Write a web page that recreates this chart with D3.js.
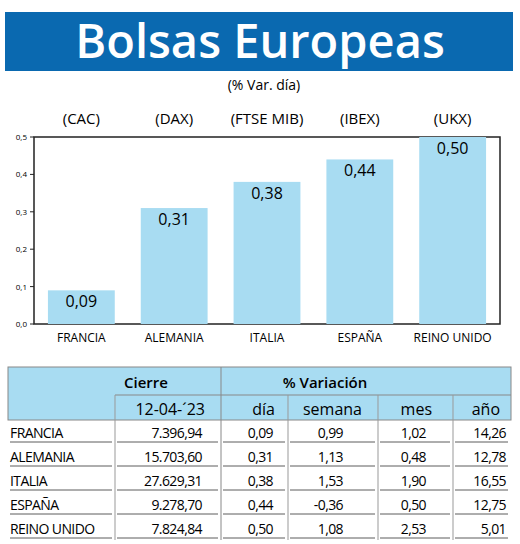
<!DOCTYPE html>
<html><head><meta charset="utf-8">
<script src="https://cdn.jsdelivr.net/npm/d3@7"></script>
<style>body{margin:0;background:#fff}text{font-family:"Open Sans",sans-serif}</style>
</head><body><svg id="c" width="520" height="544"></svg>
<script>
'use strict';
const countries = ['FRANCIA', 'ALEMANIA', 'ITALIA', 'ESPAÑA', 'REINO UNIDO']
const indices = ['(CAC)', '(DAX)', '(FTSE MIB)', '(IBEX)', '(UKX)']
const dia = [0.09, 0.31, 0.38, 0.44, 0.50]
const cierre = ['7.396,94', '15.703,60', '27.629,31', '9.278,70', '7.824,84']
const semana = ['0,99', '1,13', '1,53', '-0,36', '1,08']
const mes = ['1,02', '0,48', '1,90', '0,50', '2,53']
const anio = ['14,26', '12,78', '16,55', '12,75', '5,01']
const yTicks = [0, 0.1, 0.2, 0.3, 0.4, 0.5]

const fmt = v => v.toFixed(2).replace('.', ',')
const svg = d3.select('#c')
const blue = '#0a69b0', light = '#a8dcf2'

svg.append('rect').attr('x', 5).attr('y', 12).attr('width', 508).attr('height', 59).attr('fill', blue)
svg.append('text').attr('x', 260).attr('y', 58).attr('text-anchor', 'middle')
  .attr('fill', '#fff').attr('font-size', 47).attr('font-weight', 600).text('Bolsas Europeas')
svg.append('text').attr('x', 264).attr('y', 90).attr('text-anchor', 'middle')
  .attr('font-size', 14).text('(% Var. día)')

const x = d3.scaleBand().domain(countries).range([34, 500]).paddingInner(0.28).paddingOuter(0.15)
const y = d3.scaleLinear().domain([0, 0.5]).range([324, 137])

svg.append('rect').attr('x', 34).attr('y', 137).attr('width', 466).attr('height', 187)
  .attr('fill', 'none').attr('stroke', '#222').attr('stroke-width', 1.5)

svg.append('g').selectAll('text').data(yTicks).join('text')
  .attr('x', 27).attr('y', d => y(d) + 3).attr('text-anchor', 'end').attr('font-size', 8)
  .text(d => d.toFixed(1).replace('.', ','))
svg.append('g').selectAll('line').data(yTicks).join('line')
  .attr('x1', 30).attr('x2', 34).attr('y1', d => y(d)).attr('y2', d => y(d)).attr('stroke', '#222')

svg.append('g').selectAll('rect').data(dia).join('rect')
  .attr('x', (d, i) => x(countries[i])).attr('width', x.bandwidth())
  .attr('y', d => y(d)).attr('height', d => y(0) - y(d)).attr('fill', light)
svg.append('g').selectAll('text').data(dia).join('text')
  .attr('x', (d, i) => x(countries[i]) + x.bandwidth() / 2).attr('y', d => y(d) + 17)
  .attr('text-anchor', 'middle').attr('font-size', 16).text(fmt)
svg.append('g').selectAll('text').data(indices).join('text')
  .attr('x', (d, i) => x(countries[i]) + x.bandwidth() / 2).attr('y', 124)
  .attr('text-anchor', 'middle').attr('font-size', 15).text(d => d)
svg.append('g').selectAll('text').data(countries).join('text')
  .attr('x', d => x(d) + x.bandwidth() / 2).attr('y', 342)
  .attr('text-anchor', 'middle').attr('font-size', 12).text(d => d)

// table
const cols = [8, 115, 221, 288, 378, 453, 511]
const t = svg.append('g')
t.append('rect').attr('x', 8).attr('y', 367).attr('width', 503).attr('height', 53)
  .attr('fill', light).attr('stroke', '#888')
t.append('line').attr('x1', 115).attr('x2', 511).attr('y1', 395).attr('y2', 395).attr('stroke', '#888')
t.append('line').attr('x1', 221).attr('x2', 221).attr('y1', 367).attr('y2', 540).attr('stroke', '#888')
cols.slice(1, 6).forEach(c => {
  if (c !== 221) t.append('line').attr('x1', c).attr('x2', c).attr('y1', 395).attr('y2', 540).attr('stroke', '#999')
})
t.append('text').attr('x', 146).attr('y', 388).attr('text-anchor', 'middle').attr('font-size', 15)
  .attr('font-weight', 600).text('Cierre')
t.append('text').attr('x', 325).attr('y', 388).attr('text-anchor', 'middle').attr('font-size', 15)
  .attr('font-weight', 600).text('% Variación')
const heads = ['12-04-´23', 'día', 'semana', 'mes', 'año']
const headX = [205, 275, 362, 432, 500]
t.selectAll('.h').data(heads).join('text').attr('x', (d, i) => headX[i]).attr('y', 415)
  .attr('text-anchor', 'end').attr('font-size', 16).text(d => d)

const rows = countries.map((c, i) => [c, cierre[i], fmt(dia[i]), semana[i], mes[i], anio[i]])
const rowY = d3.scaleBand().domain(d3.range(5)).range([420, 540])
const cellX = [10, 202, 273, 343, 426, 506]
rows.forEach((r, i) => {
  const yy = rowY(i) + 18
  r.forEach((v, j) => {
    t.append('text').attr('x', cellX[j]).attr('y', yy).attr('font-size', 14)
      .attr('text-anchor', j === 0 ? 'start' : 'end').attr('letter-spacing', -0.6).text(v)
  })
  cols.slice(0, 6).forEach((c, j) => {
    t.append('line').attr('x1', c + 2).attr('x2', cols[j + 1] - 3).attr('y1', yy + 4).attr('y2', yy + 4)
      .attr('stroke', '#333').attr('stroke-width', 0.8)
  })
})
</script></body></html>
